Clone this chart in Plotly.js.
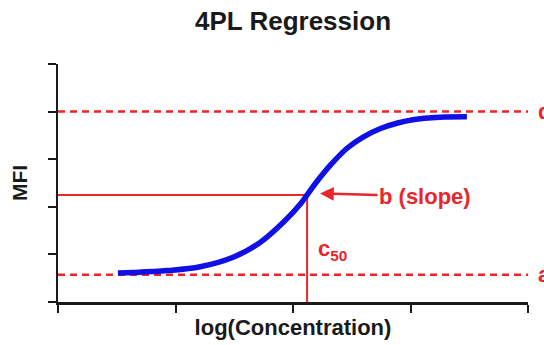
<!DOCTYPE html>
<html>
<head>
<meta charset="utf-8">
<script src="https://cdn.plot.ly/plotly-3.0.1.min.js"></script>
<style>html,body{margin:0;padding:0;background:#fff;}#chart{width:544px;height:345px;}</style>
</head>
<body>
<div id="chart"></div>
<script>
// Fitted 4PL curve (x = log concentration, y = MFI)
const logConc = [0.51, 0.64, 0.93, 1.21, 1.49, 1.72, 1.92, 2.07, 2.12, 2.20, 2.32, 2.46, 2.60, 2.74, 2.89, 3.02, 3.25, 3.48];
const mfi     = [0.61, 0.62, 0.66, 0.74, 0.94, 1.25, 1.68, 2.08, 2.25, 2.52, 2.88, 3.23, 3.47, 3.64, 3.76, 3.83, 3.88, 3.89];

// Parameters
const paramA = 0.57;      // lower asymptote
const paramD = 4.0;       // upper asymptote
const c50X = 2.12;        // log(c50)
const c50Y = 2.25;        // midpoint MFI
const xRange = [0, 4];
const yRange = [0, 5];
const xTicks = [0, 1, 2, 3, 4];
const yTicks = [0, 1, 2, 3, 4, 5];

const RED = '#e8262b';
const BLUE = '#1010e6';
const FONT = 'Liberation Sans, Arial, Helvetica, sans-serif';

const traces = [
  {x: xRange, y: [paramD, paramD], mode: 'lines', line: {color: RED, width: 2.5, dash: '7px,5px'}, hoverinfo: 'skip'},
  {x: xRange, y: [paramA, paramA], mode: 'lines', line: {color: RED, width: 2.5, dash: '7px,5px'}, hoverinfo: 'skip'},
  {x: [xRange[0], c50X], y: [c50Y, c50Y], mode: 'lines', line: {color: RED, width: 2}, hoverinfo: 'skip'},
  {x: [c50X, c50X], y: [yRange[0], c50Y], mode: 'lines', line: {color: RED, width: 2}, hoverinfo: 'skip'},
  {x: logConc, y: mfi, mode: 'lines', line: {color: BLUE, width: 5.5, shape: 'spline', smoothing: 1.0}, hoverinfo: 'skip'}
];

const layout = {
  width: 544, height: 345,
  margin: {l: 58, r: 16, t: 64, b: 43, pad: 0},
  paper_bgcolor: '#fff', plot_bgcolor: '#fff',
  showlegend: false,
  font: {family: FONT, color: '#1a1a1a'},
  title: {text: '4PL Regression', font: {family: FONT, size: 26, weight: 700, color: '#1a1a1a'},
          x: 0.5, xref: 'paper', xanchor: 'center', y: 0.94, yref: 'container', yanchor: 'middle'},
  xaxis: {range: xRange, tickvals: xTicks, showticklabels: false, ticks: 'outside', ticklen: 8, tickwidth: 2,
          tickcolor: '#1a1a1a', showline: true, linecolor: '#1a1a1a', linewidth: 2.5, showgrid: false, zeroline: false,
          fixedrange: true, automargin: false,
          title: {text: 'log(Concentration)', standoff: 8, font: {family: FONT, size: 22, weight: 700, color: '#1a1a1a'}}},
  yaxis: {range: yRange, tickvals: yTicks, showticklabels: false, ticks: 'outside', ticklen: 8, tickwidth: 2,
          tickcolor: '#1a1a1a', showline: true, linecolor: '#1a1a1a', linewidth: 2.5, showgrid: false, zeroline: false,
          fixedrange: true, automargin: false,
          title: {text: 'MFI', standoff: 14, font: {family: FONT, size: 21, weight: 700, color: '#1a1a1a'}}},
  annotations: [
    {x: xRange[1], y: paramD, xref: 'x', yref: 'y', text: 'd', showarrow: false, xanchor: 'left', yanchor: 'middle',
     xshift: 8, font: {family: FONT, size: 22, weight: 700, color: RED}},
    {x: xRange[1], y: paramA, xref: 'x', yref: 'y', text: 'a', showarrow: false, xanchor: 'left', yanchor: 'middle',
     xshift: 8, font: {family: FONT, size: 22, weight: 700, color: RED}},
    {x: c50X + 0.11, y: c50Y + 0.03, xref: 'x', yref: 'y', text: 'b (slope)', showarrow: true,
     arrowhead: 2, arrowsize: 1.1, arrowwidth: 2.5, arrowcolor: RED, axref: 'pixel', ayref: 'pixel', ax: 105, ay: 3,
     standoff: 0, font: {family: FONT, size: 22, weight: 700, color: RED}},
    {x: c50X, y: 1.1, xref: 'x', yref: 'y', text: 'c<sub>50</sub>', showarrow: false, xanchor: 'left', yanchor: 'middle',
     xshift: 9, font: {family: FONT, size: 22, weight: 700, color: RED}}
  ]
};

Plotly.newPlot('chart', traces, layout, {staticPlot: true, displayModeBar: false});
</script>
</body>
</html>
